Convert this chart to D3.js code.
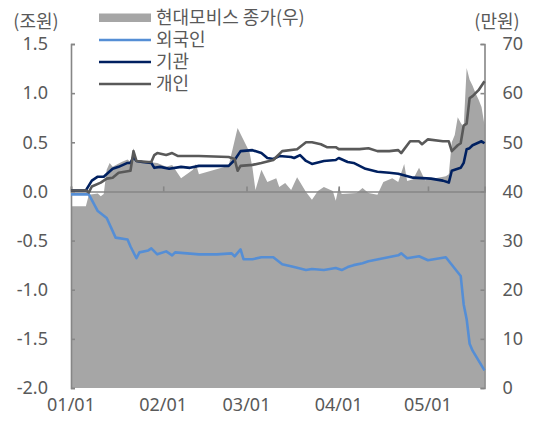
<!DOCTYPE html>
<html><head><meta charset="utf-8">
<script src="https://cdn.jsdelivr.net/npm/d3@7"></script>
<style>
body{margin:0;background:#fff;}
text{font-family:"Noto Sans","Noto Sans CJK KR",sans-serif;fill:#595959;}
.kr{font-family:"Noto Sans CJK KR",sans-serif;}
</style></head>
<body><svg id="c" width="533" height="421"></svg>
<script>
// ---- data (day offsets from 2021-01-01) ----
const leftTicks = [-2.0, -1.5, -1.0, -0.5, 0.0, 0.5, 1.0, 1.5];
const rightTicks = [0, 10, 20, 30, 40, 50, 60, 70];
const monthTicks = ["2021-01-01","2021-02-01","2021-03-01","2021-04-01","2021-05-01"];
const monthLabels = ["01/01","02/01","03/01","04/01","05/01"];
const legendLabels = ["현대모비스 종가(우)","외국인","기관","개인"];

const priceDays = [0,5,6,9,10,11,12,13,14,17,19,20,21,22,26,29,32,34,37,41,42,43,53,56,60,61,62,64,66,69,70,72,74,76,79,81,83,85,88,89,90,91,96,98,100,103,105,108,110,112,113,115,117,119,126,127,128,129,130,131,132,133,134,135,136,137,138,139];
const priceVals = [37.0,37.0,39.3,39.6,39.0,39.5,44.4,45.8,45.0,46.0,46.5,46.0,48.8,46.4,46.0,45.8,45.0,45.4,42.7,44.4,45.6,43.5,45.2,52.9,48.0,44.8,40.3,44.4,41.9,42.7,40.9,41.7,40.3,42.9,39.9,38.3,40.1,40.9,40.1,38.1,40.9,39.5,39.7,40.7,39.7,39.3,41.9,42.7,41.9,45.6,42.1,42.5,44.8,42.3,43.1,43.5,50.0,51.5,55.1,54.0,53.0,65.1,62.7,61.5,60.0,58.7,57.2,53.5];

const foreignDays = [0,6,9,12,15,19,20,22,23,26,27,29,32,34,35,43,49,54,55,57,58,61,64,68,71,75,79,81,85,89,91,93,95,98,100,105,110,111,113,117,120,126,131,132,133,134,135,139];
const foreignVals = [-0.03,-0.03,-0.20,-0.27,-0.47,-0.49,-0.56,-0.68,-0.62,-0.60,-0.58,-0.64,-0.61,-0.65,-0.62,-0.64,-0.64,-0.63,-0.66,-0.59,-0.69,-0.69,-0.67,-0.67,-0.74,-0.77,-0.80,-0.79,-0.80,-0.78,-0.80,-0.77,-0.75,-0.73,-0.71,-0.68,-0.65,-0.63,-0.68,-0.66,-0.70,-0.67,-0.86,-1.15,-1.30,-1.55,-1.62,-1.82];

const instDays = [0,5,7,9,11,14,16,19,20,21,22,24,27,28,30,33,37,40,43,53,55,57,61,64,66,68,70,74,75,77,79,81,85,89,90,93,95,99,103,107,110,115,121,125,127,128,131,132,133,134,135,138,139];
const instVals = [0.01,0.01,0.11,0.15,0.15,0.23,0.25,0.29,0.29,0.35,0.31,0.30,0.29,0.24,0.25,0.23,0.25,0.24,0.26,0.26,0.32,0.41,0.42,0.39,0.34,0.33,0.36,0.35,0.34,0.37,0.31,0.28,0.31,0.32,0.34,0.30,0.29,0.23,0.20,0.19,0.18,0.14,0.13,0.11,0.09,0.21,0.24,0.29,0.43,0.44,0.47,0.51,0.49];

const indivDays = [0,5,6,7,10,12,14,16,18,20,21,22,26,27,28,29,32,34,36,39,43,53,55,56,57,61,64,68,71,76,79,81,84,86,89,90,97,100,103,107,110,111,114,117,118,120,125,127,128,130,131,132,133,134,135,137,139];
const indivVals = [0.01,0.01,-0.01,0.05,0.09,0.13,0.14,0.19,0.20,0.21,0.41,0.31,0.30,0.30,0.37,0.39,0.37,0.39,0.36,0.36,0.36,0.35,0.33,0.21,0.26,0.27,0.29,0.32,0.41,0.43,0.50,0.50,0.48,0.45,0.45,0.43,0.43,0.44,0.41,0.41,0.42,0.39,0.51,0.51,0.48,0.53,0.51,0.51,0.41,0.47,0.49,0.67,0.69,0.95,0.97,1.03,1.12];

// ---- helpers ----
const start = new Date(2021,0,1);
const toDate = d => new Date(2021,0,1+d);
const pts = (days, vals) => days.map((d,i)=>({date:toDate(d), v:vals[i]}));

const svg = d3.select("#c");
const X0 = 71, X1 = 484.5, YT = 44, YB = 388;
const x = d3.scaleTime().domain([start, toDate(139)]).range([X0, X1]);
const yL = d3.scaleLinear().domain([-2, 1.5]).range([YB, YT]);
const yR = d3.scaleLinear().domain([0, 70]).range([YB, YT]);

const axisCol = "#868686";

// area (price)
svg.append("path").datum(pts(priceDays, priceVals))
  .attr("fill","#A6A6A6")
  .attr("d", d3.area().x(d=>x(d.date)).y0(yR(0)).y1(d=>yR(d.v)));

// left axis
const gl = svg.append("g").attr("transform",`translate(${X0},0)`)
  .call(d3.axisLeft(yL).tickValues(leftTicks).tickSize(-4).tickPadding(23).tickFormat(d3.format(".1f")));
// right axis
const gr = svg.append("g").attr("transform",`translate(${X1},0)`)
  .call(d3.axisRight(yR).tickValues(rightTicks).tickSize(-4).tickPadding(18));
[gl,gr].forEach(g=>{
  g.select(".domain").attr("stroke",axisCol).attr("stroke-width",1.6);
  g.selectAll(".tick line").attr("stroke",axisCol).attr("stroke-width",1.6);
  g.selectAll("text").attr("font-size","18px").attr("fill","#595959").attr("font-family","Noto Sans, sans-serif");
});
gl.selectAll("text").text(d=> d<0 ? "-"+Math.abs(d).toFixed(1) : d.toFixed(1));

// zero-line x axis
const gx = svg.append("g").attr("transform",`translate(0,${yL(0)})`)
  .call(d3.axisTop(x).tickValues(monthTicks.map(s=>new Date(s+"T00:00:00"))).tickSize(5).tickFormat(""));
gx.select(".domain").attr("stroke",axisCol).attr("stroke-width",1.6);
gx.selectAll(".tick line").attr("stroke",axisCol).attr("stroke-width",1.6);

// x labels
svg.append("g").selectAll("text").data(monthTicks).join("text")
  .attr("x", s=>x(new Date(s+"T00:00:00")))
  .attr("y", 411).attr("text-anchor","middle").attr("font-size","18px")
  .text((s,i)=>monthLabels[i]);

// lines
const line = d3.line().x(d=>x(d.date)).y(d=>yL(d.v));
const series = [
  {p:pts(foreignDays,foreignVals), c:"#558ED5"},
  {p:pts(instDays,instVals), c:"#002060"},
  {p:pts(indivDays,indivVals), c:"#595959"}
];
series.forEach(s=>{
  svg.append("path").datum(s.p).attr("fill","none").attr("stroke",s.c)
    .attr("stroke-width",2.6).attr("stroke-linejoin","round").attr("d",line);
});

// unit labels
svg.append("text").attr("class","kr").attr("x",36).attr("y",28).attr("text-anchor","middle").attr("font-size","18px").text("(조원)");
svg.append("text").attr("class","kr").attr("x",497).attr("y",28).attr("text-anchor","middle").attr("font-size","18px").text("(만원)");

// legend
const lg = svg.append("g");
lg.append("rect").attr("x",99).attr("y",13.5).attr("width",52).attr("height",8.5).attr("fill","#A6A6A6");
const legY = [18, 40, 62, 84];
const legC = [null,"#558ED5","#002060","#595959"];
legendLabels.forEach((t,i)=>{
  if(i>0) lg.append("line").attr("x1",99).attr("x2",151).attr("y1",legY[i]).attr("y2",legY[i]).attr("stroke",legC[i]).attr("stroke-width",2.6);
  lg.append("text").attr("class","kr").attr("x",156).attr("y",legY[i]).attr("dy","0.35em").attr("font-size","18px").text(t);
});
</script></body></html>
